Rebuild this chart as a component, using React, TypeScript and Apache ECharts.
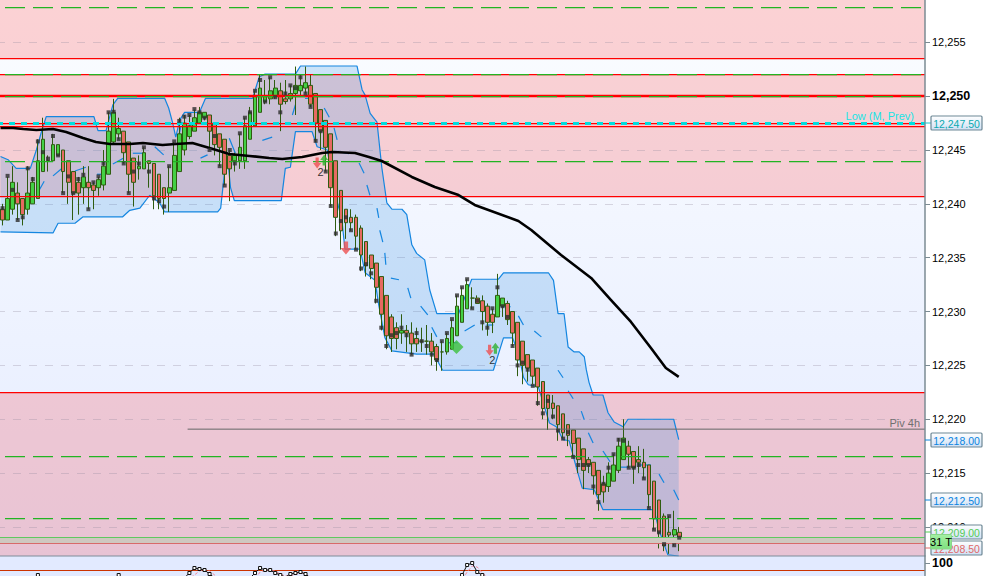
import React, { useEffect, useRef } from "react";
import * as echarts from "echarts";

const FONT = "Liberation Sans";
const BASE = 12200;

const opens = [39.5,38.5,39.5,41,40.5,39.5,40,40.5,43,44,44,44.5,45,44,43,42,41.5,42,41.75,41.5,41.75,42.75,45.75,46.5,46.75,45.75,44.25,43.25,43.25,44,43.75,42.75,41.5,41,41.25,43,45,46.25,46.75,47.5,48,48.25,47.5,46.5,46,44.5,44,44,44,46,47.25,48.5,49.5,49.75,50,50.5,49.75,49.75,50.25,50.5,50.75,51,50.25,48.75,47.75,46.5,44,41.25,39.5,38.75,38.75,37.75,36.5,35.25,34.5,33.25,31.5,29.5,28.5,28,28.25,28,27.5,27.25,27.25,27.25,26.75,26.25,26.25,26.5,27.75,29,30.25,31.25,31.25,31,30.5,29.75,29.5,30.5,30.75,30,29,27.25,26,25.5,24.75,23.5,22.25,21.5,21.25,20.5,19.5,19,18.25,17.25,16.25,16,15.25,14,13.75,14.25,15.25,16.25,17.5,17,16.25,16,15.75,14.25,12.5,11,9.5,9.25,9.5];
const closes = [38.5,40.5,42,40,39,41,42,44,46,44,45.5,45.5,43,42,41,41,42.5,41.5,41.25,42.25,43.5,46.75,48.5,47,44.75,42.75,42,43.5,44.75,43.75,40.75,40.5,40.5,41.5,44.5,46.5,47.5,47.25,48,48.5,48.5,46.75,45.5,45.25,42.75,43.25,44.5,45.25,47.25,48.5,50,50.75,50,50.5,50.75,49.25,49.5,50.25,51,51,51.25,49.25,47.5,46.75,45.25,41.5,38.75,37.5,38.25,38.25,37,35.25,34.25,34,32.25,29.75,27.75,27.5,27.5,28.25,28,27,27,27.25,27.25,26.25,25.5,26.25,27.5,28.5,30.5,31.5,32.5,31.25,30.75,30,29,29,31.5,31.25,29.25,28,25.5,25,24.75,24,23,21,21,21,19.5,18.75,18.5,17.75,16.25,15.25,15.75,14.75,13,13.25,15,15.75,17.5,18.25,16.75,15.5,16,15.5,13,10.75,9.5,8.25,9.25,9.75,8.5];
const lows = [38,38.5,39,38.5,38,39,40,40.5,43,43,44,44.5,41,40,38.5,39,40,39.5,39.5,40.75,41.25,42.75,45.5,46,43.75,41,39.75,42.25,43.25,41.5,39.5,39.5,39,39.25,41.25,43,44.5,46,46.75,47.5,47.75,45,44.5,43.5,41.75,40.25,43,43.25,43.25,46,47.25,48.5,49.25,49.25,49.75,46.75,49.25,49.5,48.25,50,50.25,49,45.75,45,43,39.75,37,35.75,36.75,37.5,35.75,33.75,33.25,33,30.75,28.25,26.5,26.25,26.5,27,26.25,26,26.25,26.25,26,25,24.5,24.5,26,26.5,27.75,29,30.25,30.25,30.75,28.25,27.75,28,29.5,29.5,28.75,26.75,24,23.25,23.5,23.25,21.25,20,19,20,18,18.25,17.5,16.5,15,13.5,15,13,11.5,12.25,13.25,14.25,15,16.25,15.5,14,15,14.5,11.75,9.75,8,7.75,7.5,8.25,7.75];
const highs = [40,42.5,43.5,42,40.5,43.5,42.5,46,48,44.5,46.5,45.5,45,44,43,42.5,43.5,43.5,42,42.5,45,48.5,49.75,48,46.75,45.75,44.25,44.5,45.25,44,43.75,42.75,41.5,43.5,45.75,48,48.25,48.25,48.75,49,48.5,48.25,47.5,46.5,46,45,44.75,46.5,48,49,50.5,52,51.5,51.75,51.5,51.25,51.5,51,52.75,52,52.75,52,50.25,48.75,47.75,46.5,44,41.25,39.5,39.5,39,38,36.5,35.25,34.5,33.25,31.5,29.75,29,29.75,28.75,29,28.5,28.5,28.75,28,27,27.25,28,29.25,31.5,32.25,33,32.25,31.5,31.5,30.75,30.25,33.5,31.25,31,30,29,27.25,26,25.5,24.75,23.5,22.25,22.25,21.25,20.5,19.5,19,18.25,17.25,16.5,16,15.25,14.75,16,16.75,18.25,20,18,17,17.5,17.25,15.75,14.25,12.5,11.25,11,11.5,10];
const dots = [39.6,42.6,41.3,38.5,38.75,43.3,42.3,45.8,44.8,44.2,46.3,44.5,41,42.55,41,42.3,42.7,39.5,42,42.55,43.75,48.5,48.55,46,43.75,41,43,43.75,45.25,43,40.5,40.25,39.75,43.5,45.8,47.7,48.1,48.25,48.8,48.5,48,45,46.3,43.5,41.7,45,43.75,46.55,48,48.5,50.5,51.5,49.5,51.75,49.9,48.5,50.25,51,50.75,51.75,50.25,49,45.85,46.75,43,39.8,37.25,38.4,38.75,37.55,35.75,34,34.4,33.55,31,28.5,26.8,27.8,28,28.5,27.8,26,28,27.25,26.8,26,25.5,27.25,28,29.3,31.5,32.25,33,30.3,31,29,28.5,30.3,32.25,30.5,29.5,26.8,25,25.25,24.6,23.1,21.5,20.55,21.7,20.25,18.95,18.2,18.8,16.5,15.75,15.75,15.75,13.75,12.3,14,15.5,16.75,18.1,18,15.5,15.5,15.75,14.5,11.75,9.75,9.5,8.4,11,8.3,9];

const upperBand = [[-0.4,44.4],[1.1,44.1],[2.7,43.3],[5.5,43.3],[6.7,45],[7.65,46.6],[8.65,48.1],[18.1,48.1],[18.9,46.8],[20.5,46.8],[21.85,49.2],[22.8,49.8],[32.1,49.8],[32.9,48.9],[33.7,47.5],[34.3,46.2],[35.1,47.8],[36.05,48.5],[39,48.5],[40.2,49.8],[49.5,49.8],[50.85,51.8],[52,52.05],[58,52.05],[59,52.8],[70.2,52.8],[71.2,50.6],[71.8,50.1],[72.8,48.4],[74.15,47.6],[75.1,43.4],[76.1,40.1],[77.1,39.5],[79.1,39.5],[80.05,39],[81.05,36.2],[82,35.4],[83.6,34.8],[84.6,32],[86,29.8],[90.3,29.8],[92.9,33],[98.2,33],[99.2,33.6],[108.1,33.6],[109.1,32.9],[110,29.8],[111.2,29.8],[112,26.7],[113.2,26.25],[114.2,26.25],[115.2,25.8],[115.6,24.6],[116.15,23.4],[116.95,22.25],[118.9,22.25],[119.9,20.6],[121.1,19.75],[122.9,19.3],[123.85,20],[132.9,20],[133.9,18.1]];
const lowerBand = [[-0.4,37.4],[10,37.3],[11,38.2],[14.35,38.2],[15.95,38.8],[23.8,38.8],[25.2,39.4],[27.2,39.6],[29.15,40.8],[31.1,40.1],[32.1,39.25],[42.6,39.25],[43.2,39.6],[43.95,42.9],[44.55,44.35],[45.15,41.5],[45.9,40.3],[55.2,40.3],[56,43.3],[57,43.4],[58,46.7],[61.3,46.7],[62.3,45.3],[64.3,45],[65.85,41],[67.2,38.5],[67.8,35.8],[70.8,35.8],[71.8,33.6],[73.75,32.9],[74.5,30.6],[75.7,27.6],[77.1,26.35],[82,26.05],[85.4,26.05],[87.15,24.55],[97.2,24.55],[99.2,27.55],[101,27.55],[102.15,26.15],[103.15,23.9],[104.1,23.2],[106.1,23],[108.3,19.65],[109.65,19.3],[111,18.1],[112.2,18],[113.6,15.55],[114.8,13.6],[117.15,13.45],[118.9,11.6],[129,11.6],[130,9.7],[131.75,7.4],[133.9,7.3]];
const midDashes = [
  [[7.05,41.1],[8.25,42.1]],[[10,42.6],[11.8,43.3]],[[14.35,43.05],[16.5,43.4]],[[18.7,42.75],[20.5,42.75]],[[21.85,43.7],[24,44.25]],[[25.8,44.7],[28.15,44.7]],[[30.15,45.3],[31.9,44.55]],[[34.7,45.9],[35.3,47.15]],[[39.2,44.25],[40.6,44.55]],[[44.9,46.1],[46.1,44.7]],[[51.45,45.9],[53.4,46.2]],[[57.4,48.25],[58,49.2]],[[59.9,49.8],[61.9,49.8]],
  [[63.7,48.9],[64.7,48.05]],[[65.65,47.05],[66.25,45.95]],[[67,44.8],[68.6,44.65]],[[70.6,43.8],[71.6,42.85]],[[72.15,41.75],[72.75,40.8]],[[74.15,39.6],[74.5,38.7]],[[74.7,37.55],[75.3,36.45]],[[75.7,35.45],[75.9,34.35]],[[76.9,33.1],[78.5,32.95]],[[80.25,32.2],[80.85,31.25]],[[82.8,30.5],[84.2,29.7]],[[85,28.55],[86,27.65]],[[87.95,27.1],[90.1,27.1]],[[91.5,28.2],[93.5,28.75]],[[95.8,28.75],[97.2,28.75]],[[98.8,30.45],[100.6,30.45]],[[102.15,29.6],[103.15,28.75]],[[105.3,28.2],[106.7,27.65]],
  [[110,24.55],[111,23.85]],[[112,22.65],[113,21.9]],[[114.6,20.75],[115.2,19.95]],[[116,18.75],[116.95,17.8]],[[118.9,17.05],[120.3,16.05]],[[121.9,15.55],[124,15.55]],[[126,15.75],[128.4,15.75]],[[130,14.9],[131,14.1]],[[132.9,13.45],[133.9,12.5]],
];
const movingAverage = [[-0.4,47.05],[2.1,47.05],[4.1,46.95],[6.7,46.86],[10,46.95],[12.6,46.67],[15.95,46.12],[18.5,45.75],[21.25,45.56],[25.2,45.56],[27.8,45.65],[31.7,45.47],[34.3,45.56],[37.6,45.65],[41,45.19],[44.9,44.63],[48.9,44.45],[52.8,44.26],[55.4,44.17],[59.35,44.35],[63.3,44.72],[65.25,44.82],[69.8,44.72],[72.55,44.35],[75.1,43.98],[81.05,42.5],[85.6,41.57],[90.3,40.82],[93.5,39.9],[102.15,38.41],[104.7,37.57],[110.6,35.25],[116.55,33.12],[120.5,31.07],[124.45,29.03],[128.4,26.62],[131.35,24.76],[133.9,23.93]];

const redLevels = [12253.54, 12252.05, 12250, 12247.5, 12247.25, 12240.68, 12222.5, 12208.5];
const greenLevels = [12258.25, 12252.05, 12250, 12244, 12216.55, 12210.8];
const gridLevels = [12255, 12250, 12245, 12240, 12235, 12230, 12225, 12220, 12215, 12210];
const pinkZones = [[12253.54, 12258.93], [12240.68, 12252.05], [12207.3, 12222.5]];
const tickLabels = [12255, 12250, 12245, 12240, 12235, 12230, 12225, 12220, 12215, 12210];
const pivot4h = [[36.65, 12219.08], [190, 12219.08]];

const oscillator = [[5,60],[7,76],[9,60],[21,60],[23,76],[25,60],[35,60],[36,70],[37,80],[38,90],[39,88],[40,86],[41,78],[42,70],[48,60],[49,70],[50,80],[51,90],[52,86],[53,86],[54,80],[55,76],[56,72],[57,78],[58,80],[59,82],[60,78],[61,70],[63,60],[89,60],[90,70],[91,76],[92,96],[93,100],[94,82],[95,76],[96,70],[98,60]];
const oscillatorSignal = [[36.5,66],[38,76],[39,84],[40,87],[41,84],[42,76],[43,68],[50,68],[51,82],[52,86],[53,85],[54,84],[55,78],[56,74],[57,74],[58,78],[59,80],[60,78],[61,72],[62,66],[91,66],[92,82],[93,94],[94,92],[95,80],[96,72],[97,66]];

const downSmall = [[62.3,43.8],[96.45,26.4]];
const upSmall = [[63.7,44.07],[97.6,26.6]];
const downBig = [[68,35.9]];
const diamonds = [[89.9,26.7]];
const countMarks = [[63,42.95,"2"],[97,25.5,"2"]];

const priceTags = [
  { text: "12,247.50", price: 123, color: "#0aa9b0", tick: "#18c8d0" },
  { text: "12,218.00", price: 440, color: "#0a84e0", tick: "#0a84e0" },
  { text: "12,212.50", price: 500, color: "#0a84e0", tick: "#0a84e0" },
  { text: "12,209.00", price: 532, color: "#55cc55", tick: "#55cc55" },
  { text: "12,208.50", price: 548, color: "#e06868", tick: "#e06868" },
];

const ARROW_DOWN = "path://M3,0 L7,0 L7,6 L10,6 L5,12 L0,6 L3,6 Z";
const ARROW_UP = "path://M5,0 L10,6 L7,6 L7,12 L3,12 L3,6 L0,6 Z";

const lift = (pts: number[][]) => pts.map(([x, y]) => [x, BASE + y]);
const barIds = Array.from({ length: 184 }, (_, i) => String(i));

const level = (values: number[], z: number, lineStyle: any, perValue?: (v: number) => any) => ({
  type: "line",
  xAxisIndex: 1,
  yAxisIndex: 0,
  data: [],
  silent: true,
  z,
  markLine: {
    z,
    silent: true,
    symbol: "none",
    animation: false,
    label: { show: false },
    lineStyle,
    data: values.map((v) => ({ yAxis: v, ...(perValue ? perValue(v) : {}) })),
  },
});

const GRID_LEFT = -3.3;
const GRID_WIDTH = 932.5;
const PANE_EDGE = 925;

function buildOption(): any {
  const grad = (a: string, b: string) => new echarts.graphic.LinearGradient(0, 0, 0, 1, [{ offset: 0, color: a }, { offset: 1, color: b }]);
  const series: any[] = [
    {
      type: "line", xAxisIndex: 1, yAxisIndex: 0, data: [], silent: true, z: 1,
      markArea: {
        z: 1, silent: true, animation: false,
        itemStyle: { color: "rgba(255,0,0,0.167)" },
        data: pinkZones.map(([a, b]) => [{ yAxis: a }, { yAxis: b }]),
      },
    },
    level(gridLevels, 2, { type: [8, 8], dashOffset: 2.7, width: 1, color: "rgba(150,140,160,0.32)" }),
    {
      type: "custom", xAxisIndex: 1, yAxisIndex: 0, z: 3, silent: true, data: [[0, BASE + 40]],
      renderItem: (_p: any, api: any) => {
        const pts = [...lift(upperBand), ...lift(lowerBand).reverse()].map((d) => api.coord(d));
        return { type: "polygon", shape: { points: pts }, style: { fill: "rgba(46,142,222,0.22)", stroke: "none" } };
      },
    },
    { type: "line", xAxisIndex: 1, yAxisIndex: 0, z: 4, silent: true, showSymbol: false, data: lift(upperBand), lineStyle: { color: "#1486e0", width: 1.2 } },
    { type: "line", xAxisIndex: 1, yAxisIndex: 0, z: 4, silent: true, showSymbol: false, data: lift(lowerBand), lineStyle: { color: "#1486e0", width: 1.2 } },
    ...midDashes.map((seg) => ({ type: "line", xAxisIndex: 1, yAxisIndex: 0, z: 4, silent: true, showSymbol: false, data: lift(seg), lineStyle: { color: "#1486e0", width: 1.2 } })),
    {
      type: "candlestick", xAxisIndex: 0, yAxisIndex: 0, z: 5, silent: true, barWidth: 4.2,
      data: opens.map((o, i) => [BASE + o, BASE + closes[i], BASE + lows[i], BASE + highs[i]]),
      itemStyle: { color: "#44d044", color0: "#e66a62", borderColor: "#2f5c10", borderColor0: "#2f5c10", borderWidth: 1 },
    },
    {
      type: "line", xAxisIndex: 1, yAxisIndex: 0, z: 6, data: [], silent: true,
      markArea: { z: 6, silent: true, animation: false, itemStyle: { color: "#cfc8c0" }, data: [[{ yAxis: 12208.5 }, { yAxis: 12209 }]] },
    },
    level(redLevels, 6, { type: "solid", width: 1.25, color: "#ff0000" }, (v) =>
      v === 12250 ? { lineStyle: { width: 2.4, color: "#ff0000", type: "solid" } } :
      v === 12208.5 ? { lineStyle: { width: 1, color: "#d86a6a", type: "solid" } } : {}),
    level(greenLevels, 6, { type: [20, 8], dashOffset: 22.7, width: 1.25, color: "#22b422" }),
    level([12209], 6, { type: "solid", width: 1, color: "#60c860" }),
    level([12247.5], 6, { type: [6, 6], dashOffset: 2.7, width: 3, color: "#00dede" }),
    { type: "line", xAxisIndex: 1, yAxisIndex: 0, z: 6, silent: true, showSymbol: false, data: pivot4h, lineStyle: { color: "#666", width: 1 } },
    { type: "line", xAxisIndex: 1, yAxisIndex: 0, z: 7, silent: true, showSymbol: false, data: lift(movingAverage), lineStyle: { color: "#000", width: 2.6 } },
    { type: "scatter", xAxisIndex: 0, yAxisIndex: 0, z: 8, silent: true, symbol: "rect", symbolSize: 4, data: dots.map((v) => BASE + v), itemStyle: { color: "#2d2d2d" } },
    { type: "scatter", xAxisIndex: 1, yAxisIndex: 0, z: 9, silent: true, symbol: ARROW_DOWN, symbolSize: [8, 11], data: lift(downSmall), itemStyle: { color: "#ee5050" } },
    { type: "scatter", xAxisIndex: 1, yAxisIndex: 0, z: 9, silent: true, symbol: ARROW_UP, symbolSize: [8, 11], data: lift(upSmall), itemStyle: { color: "#2fb02f" } },
    { type: "scatter", xAxisIndex: 1, yAxisIndex: 0, z: 9, silent: true, symbol: ARROW_DOWN, symbolSize: [11, 13], data: lift(downBig), itemStyle: { color: "#ee5050" } },
    { type: "scatter", xAxisIndex: 1, yAxisIndex: 0, z: 9, silent: true, symbol: "diamond", symbolSize: 14, data: lift(diamonds), itemStyle: { color: "#3cc03c" } },
    {
      type: "scatter", xAxisIndex: 1, yAxisIndex: 0, z: 9, silent: true, symbolSize: 0,
      data: countMarks.map(([x, y, t]) => ({ value: [x, BASE + (y as number)], name: t })),
      label: { show: true, position: "inside", formatter: "{b}", color: "#000", fontFamily: FONT, fontSize: 11 },
    },
    {
      type: "line", xAxisIndex: 2, yAxisIndex: 1, z: 4, silent: true, data: [],
      markLine: { z: 4, silent: true, symbol: "none", animation: false, label: { show: false }, lineStyle: { type: "solid", color: "#cc3300", width: 1.2 }, data: [{ yAxis: 85 }] },
    },
    { type: "line", xAxisIndex: 2, yAxisIndex: 1, z: 5, silent: true, showSymbol: false, data: oscillatorSignal, lineStyle: { color: "#f08a9a", width: 1, type: [3, 2] } },
    { type: "line", xAxisIndex: 2, yAxisIndex: 1, z: 6, silent: true, symbol: "rect", symbolSize: 3, showSymbol: true, data: oscillator, lineStyle: { color: "#111", width: 1 }, itemStyle: { color: "#fff", borderColor: "#111", borderWidth: 1 } },
  ];

  const graphic: any[] = [
    { type: "rect", z: 15, silent: true, shape: { x: PANE_EDGE, y: 0, width: 60, height: 576 }, style: { fill: "#fff" } },
    { type: "line", z: 16, silent: true, shape: { x1: 0, y1: 556, x2: PANE_EDGE, y2: 556 }, style: { stroke: "#7f8c9a", lineWidth: 1 } },
    { type: "text", z: 9, silent: true, x: 914, y: 116, style: { text: "Low (M, Prev)", fill: "#18e4e4", font: `11px ${FONT}`, align: "right", verticalAlign: "middle" } },
    { type: "text", z: 9, silent: true, x: 920, y: 423, style: { text: "Piv 4h", fill: "#707070", font: `11px ${FONT}`, align: "right", verticalAlign: "middle" } },
  ];
  priceTags.forEach((t) => {
    graphic.push(
      { type: "line", z: 19, silent: true, shape: { x1: PANE_EDGE, y1: t.price, x2: 931, y2: t.price }, style: { stroke: t.tick, lineWidth: 1 } },
      { type: "rect", z: 20, silent: true, shape: { x: 931, y: t.price - 7, width: 51, height: 14, r: 1 }, style: { fill: grad("#ffffff", "#cfe0f4"), stroke: "#6d8795", lineWidth: 1.2 } },
      { type: "text", z: 21, silent: true, x: 956.5, y: t.price + 0.5, style: { text: t.text, fill: t.color, font: `10.5px ${FONT}`, align: "center", verticalAlign: "middle" } },
    );
  });
  graphic.push(
    { type: "rect", z: 22, silent: true, shape: { x: 930.5, y: 534.5, width: 21, height: 14.5, r: 1 }, style: { fill: grad("#a4f0a4", "#7fe07f"), stroke: "#8ad68a", lineWidth: 1 } },
    { type: "text", z: 23, silent: true, x: 941, y: 542, style: { text: "31 T", fill: "#000", font: `11px ${FONT}`, align: "center", verticalAlign: "middle" } },
  );

  const hiddenX = (gridIndex: number) => ({ type: "value", gridIndex, min: -0.5, max: 183.5, show: false });

  return {
    animation: false,
    backgroundColor: "#ffffff",
    grid: [
      { left: GRID_LEFT, top: 0, width: GRID_WIDTH, height: 556, show: true, borderWidth: 0, backgroundColor: grad("#fbfdff", "#e4ebff") },
      { left: GRID_LEFT, top: 556, width: GRID_WIDTH, height: 20, show: true, borderWidth: 0, backgroundColor: "#e2eaff" },
    ],
    xAxis: [
      { type: "category", gridIndex: 0, data: barIds, show: false },
      hiddenX(0),
      hiddenX(1),
    ],
    yAxis: [
      {
        type: "value", gridIndex: 0, position: "right", offset: -4.2, z: 16,
        min: 12207.3, max: 12258.93, scale: true,
        splitLine: { show: false },
        axisLine: { show: true, onZero: false, lineStyle: { color: "#7b8b93", width: 1.5 } },
        axisTick: { show: true, length: 5, customValues: tickLabels, lineStyle: { color: "#7b8b93" } },
        axisLabel: {
          show: true, margin: 7, customValues: tickLabels,
          formatter: (v: number) => {
            const s = v.toLocaleString("en-US");
            return v === 12250 ? `{b|${s}}` : `{n|${s}}`;
          },
          rich: {
            n: { fontFamily: FONT, fontSize: 11, color: "#000" },
            b: { fontFamily: FONT, fontSize: 12.5, fontWeight: "bold", color: "#000" },
          },
        },
      },
      {
        type: "value", gridIndex: 1, position: "right", offset: -4.2, z: 16,
        min: 74, max: 114,
        splitLine: { show: false },
        axisLine: { show: true, onZero: false, lineStyle: { color: "#7b8b93", width: 1.5 } },
        axisTick: { show: true, length: 5, customValues: [100], lineStyle: { color: "#7b8b93" } },
        axisLabel: { show: true, margin: 7, customValues: [100], fontFamily: FONT, fontSize: 12.5, fontWeight: "bold", color: "#000" },
      },
    ],
    series,
    graphic,
  };
}

export default function App() {
  const ref = useRef<HTMLDivElement>(null);
  useEffect(() => {
    document.body.style.margin = "0";
    document.body.style.overflow = "hidden";
    const chart = echarts.init(ref.current!, undefined, { renderer: "svg" });
    chart.setOption(buildOption());
    return () => chart.dispose();
  }, []);
  return <div ref={ref} style={{ width: 983, height: 576 }} />;
}
